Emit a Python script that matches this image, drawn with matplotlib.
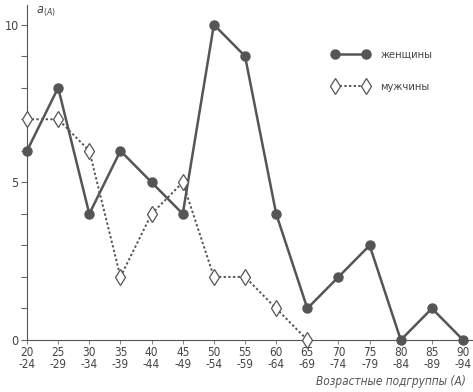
import numpy as np
import matplotlib.pyplot as plt
from matplotlib.ticker import MultipleLocator

groups = ['20\n-24', '25\n-29', '30\n-34', '35\n-39', '40\n-44', '45\n-49', '50\n-54',
          '55\n-59', '60\n-64', '65\n-69', '70\n-74', '75\n-79', '80\n-84', '85\n-89', '90\n-94']
women = [6, 8, 4, 6, 5, 4, 10, 9, 4, 1, 2, 3, 0, 1, 0]
men = [7, 7, 6, 2, 4, 5, 2, 2, 1, 0]

col = '#555555'
plt.rcParams['font.family'] = ['DejaVu Sans']
plt.rcParams['font.stretch'] = 'condensed'

fig = plt.figure(figsize=(4.73, 3.92), dpi=100)
ax = fig.add_axes([0.0571, 0.1327, 0.943, 0.855])

x = np.arange(len(groups))
ax.plot(x, women, color=col, lw=1.8, marker='o', ms=6.5, mfc=col, mec=col,
        clip_on=False, zorder=3, label='женщины')
ax.plot(x[:len(men)], men, color=col, lw=1.4, ls=(0, (1.2, 1.2)), marker='d', ms=8,
        mfc='white', mec=col, mew=0.9, clip_on=False, zorder=4, label='мужчины')

ax.set_xlim(0, 14.32)
ax.set_ylim(0, 10.63)
ax.set_xticks(x)
ax.set_xticklabels(groups, fontsize=8.5, color='#444444', linespacing=0.9)
ax.set_yticks([0, 5, 10])
ax.yaxis.set_minor_locator(MultipleLocator(1))
ax.tick_params(axis='y', which='both', length=4, width=0.8, colors='#666666', labelsize=9,
               labelcolor='#444444', pad=2)
ax.tick_params(axis='x', length=3, width=0.8, colors='#888888', labelcolor='#444444', pad=1)

for s in ['top', 'right']:
    ax.spines[s].set_visible(False)
ax.spines['left'].set_color(col)
ax.spines['bottom'].set_color(col)

ax.text(0.3, 10.35, 'a$_{(A)}$', fontsize=9, style='italic', color='#444444')
ax.text(14.1, -1.32, 'Возрастные подгруппы (А)', fontsize=8.5, style='italic',
        color='#555555', ha='right', va='center')

ax.legend(loc='upper left', bbox_to_anchor=(0.66, 0.895), frameon=False, fontsize=8,
          numpoints=2, handlelength=3.4, labelspacing=2.0, handletextpad=1.0,
          labelcolor='#444444')

fig.savefig('out.png', dpi=100)
